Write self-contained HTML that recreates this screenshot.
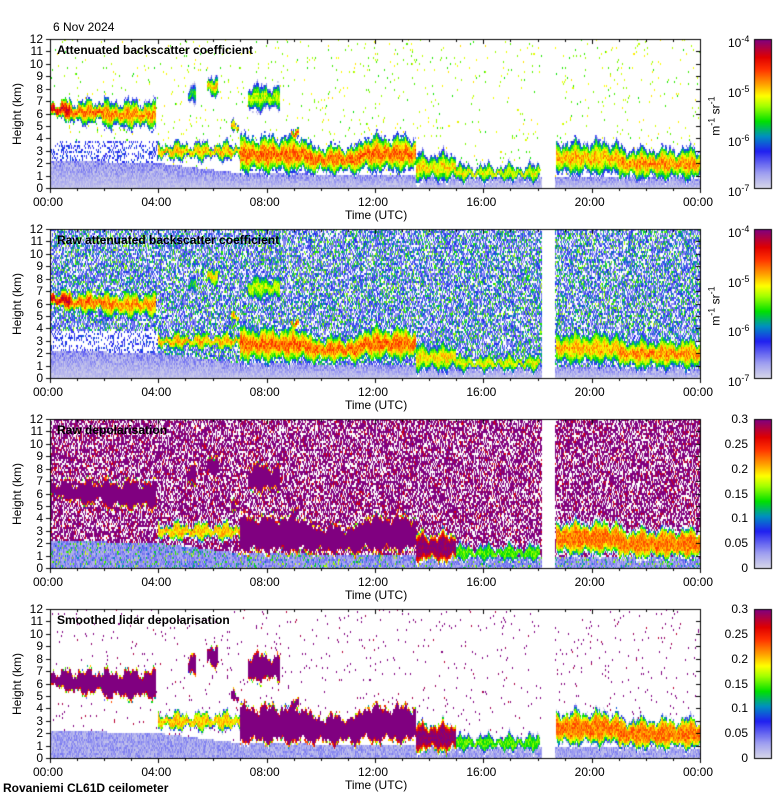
<!DOCTYPE html>
<html><head><meta charset="utf-8">
<style>
body{margin:0;background:#fff;width:780px;height:800px;position:relative;overflow:hidden;font-family:"Liberation Sans",sans-serif;}
canvas{position:absolute;left:0;top:0}
.t{position:absolute;font-size:12px;color:#000;white-space:nowrap;line-height:12px}
.b{font-weight:bold}
</style></head>
<body>
<canvas id="c" width="780" height="800"></canvas>
<div id="txt"></div>
<script>
// ---- data ----
const segStart=[0,0.75,2.0,5.1,5.8,7.3,6.7,8.9,4.0,7.0,9.5,11.5,13.5,15.0,18.7,21.0];
const segEnd=[0.75,2.0,3.9,5.4,6.2,8.5,7.0,9.2,7.0,9.5,11.5,13.5,15.0,18.1,21.0,24.0];
const segBase=[5.6,5.2,4.8,6.8,7.5,6.2,4.7,4.2,2.3,1.2,1.2,1.3,0.5,0.6,1.0,0.7];
const segTop=[7.0,7.0,7.0,8.2,8.8,8.3,5.1,4.6,3.6,4.2,3.4,4.2,2.8,1.8,3.8,3.2];
const segPeak=[-4.1,-4.5,-4.6,-5.4,-4.8,-5.0,-4.6,-4.4,-4.7,-4.5,-4.5,-4.5,-4.8,-4.9,-4.7,-4.6];
const segDepol=[0.38,0.38,0.38,0.35,0.38,0.38,0.35,0.35,0.2,0.4,0.4,0.4,0.3,0.15,0.22,0.22];
const blHours=[0,4,7,14,18,24];
const blTop=[2.2,2.0,1.2,1.0,0.9,0.8];
const gapStart=18.17, gapEnd=18.65;
const xTicks=["00:00","04:00","08:00","12:00","16:00","20:00","00:00"];
const bsTicks=["-4","-5","-6","-7"];
const dpTicks=["0.3","0.25","0.2","0.15","0.1","0.05","0"];
const titles=["Attenuated backscatter coefficient","Raw attenuated backscatter coefficient","Raw depolarisation","Smoothed lidar depolarisation"];

// ---- layout ----
const L=50,W=650,H=149,tops=[39,229,419,609];
const X=t=>L+t/24*W;
const ctx=document.getElementById('c').getContext('2d');
function hash(a,b,c){let h=(a*374761393+b*668265263+c*2147483647)|0;h=(h^(h>>>13))*1274126177|0;h^=h>>>16;return ((h>>>0)%10000)/10000;}
const stops=[[0,[216,216,232]],[0.1,[160,160,240]],[0.25,[32,32,240]],[0.35,[0,144,192]],[0.45,[0,224,0]],[0.55,[160,255,0]],[0.62,[255,255,0]],[0.7,[255,160,0]],[0.8,[255,48,0]],[0.88,[224,0,0]],[1,[128,0,128]]];
function cmap(f){f=Math.max(0,Math.min(1,f));for(let i=1;i<stops.length;i++){if(f<=stops[i][0]){const a=stops[i-1],b=stops[i],r=(f-a[0])/(b[0]-a[0]);return 'rgb('+a[1].map((v,k)=>Math.round(v+(b[1][k]-v)*r)).join(',')+')';}}return 'rgb(128,0,128)';}
function bl(t){for(let i=1;i<blHours.length;i++)if(t<=blHours[i]){const r=(t-blHours[i-1])/(blHours[i]-blHours[i-1]);return blTop[i-1]+(blTop[i]-blTop[i-1])*r;}return blTop[blTop.length-1];}
function wob(t,k){return 0.3*Math.sin(t*7.3+k)+0.2*Math.sin(t*17.1+2*k)+0.15*Math.sin(t*41.7+k*5);}
const cw=1,ch=2;
for(let p=0;p<4;p++){
  const top=tops[p];
  for(let i=0;i<W/cw;i++){for(let j=0;j<Math.ceil(H/ch);j++){
    const t=(i+0.5)*cw/W*24, hgt=12-(j+0.5)*ch/H*12;
    if(t>gapStart&&t<gapEnd) continue;
    const n=hash(i,j,p+1), n2=hash(j,i,p+7);
    let f=null;
    let inSeg=-1,q=0;
    for(let s=0;s<segStart.length;s++){
      const b=segBase[s]+wob(t,s)*0.8, tp=segTop[s]+wob(t,s+3);
      if(t>=segStart[s]&&t<=segEnd[s]&&hgt>=b&&hgt<=tp){inSeg=s;const mid=(b+tp)/2,half=(tp-b)/2;q=(hgt-mid)/half;break;}}
    const blt=bl(t);
    if(inSeg>=0){
      const s=inSeg;
      if(p<2){const v=segPeak[s]-1.8*q*q-0.5*n;f=(v+7)/3;}
      else{const v=segDepol[s]-0.18*q*q*q*q*(1+n)+0.04*(n2-0.5);f=v/0.3;}
      if(Math.abs(q)>0.8&&n2<0.35)f=null;
    } else if(hgt<blt){
      if(p<2)f=0.02+0.14*n*(hgt/blt+0.3); else if(p==2) f=n<0.15?0.3+0.3*n2:0.03+0.15*n; else f=0.03+0.12*n;
    } else if(hgt<3.8&&t<4&&p<2){
      if(n<0.3)f=0.2+0.1*n2;
    } else {
      if(p==0){if(n<0.025)f=0.45+0.2*n2;}
      else if(p==1){if(n<0.7)f=0.12+0.45*n2*n2;}
      else if(p==2){if(n<0.65)f=n2<0.78?1:0.4+n2*0.6;}
      else {if(n<0.02)f=n2<0.75?1:0.7+n2*0.3;}
    }
    if(f===null)continue;
    ctx.fillStyle=cmap(f);
    ctx.fillRect(L+i*cw,top+j*ch,cw,ch);
  }}
  ctx.strokeStyle='#000';ctx.lineWidth=1;
  ctx.strokeRect(L+0.5,top+0.5,W,H);
  ctx.beginPath();
  for(let k=0;k<=12;k++){const y=Math.round(top+H-k/12*H)+0.5;ctx.moveTo(L-4,y);ctx.lineTo(L,y);ctx.moveTo(L+W-4,y);ctx.lineTo(L+W,y);}
  for(let k=0;k<=24;k++){const x=Math.round(X(k))+0.5;const len=k%4==0?5:3;ctx.moveTo(x,top+H);ctx.lineTo(x,top+H+len);ctx.moveTo(x,top);ctx.lineTo(x,top+len);}
  ctx.stroke();
  const cx=754,cwid=17;
  for(let y=0;y<H;y++){ctx.fillStyle=cmap(1-y/H);ctx.fillRect(cx,top+y,cwid,1);}
  ctx.strokeRect(cx+0.5,top+0.5,cwid,H);
}
const txt=document.getElementById('txt');
function addText(s,x,y,cls,name,html){const d=document.createElement('div');d.className='t '+(cls||'');if(html)d.innerHTML=s;else d.textContent=s;d.style.left=x+'px';d.style.top=y+'px';


txt.appendChild(d);return d;}
addText('6 Nov 2024',53,21,'','date-label');
addText('Rovaniemi CL61D ceilometer',3,782,'b','footer-label');
for(let p=0;p<4;p++){
  const top=tops[p];
  addText(titles[p],57,top+5,'b','panel-title');
  for(let k=0;k<=12;k++){const d=addText(String(k),0,top+H-k/12*H-6,'','y-tick-label');d.style.width='43px';d.style.textAlign='right';}
  xTicks.forEach((s,k)=>{const d=addText(s,X(k*4)-17,top+H+8,'','x-tick-label');});
  addText('Time (UTC)',345,top+H+21,'','x-axis-title');
  const yl=addText('Height (km)',-14,top+H/2-6,'','y-axis-title');yl.style.transform='rotate(-90deg)';
  if(p<2){
    bsTicks.forEach((s,k)=>{const d=addText('10<sup style="font-size:9px">'+s+'</sup>',728,top+k/3*H-6,'','colorbar-tick-label',true);});
    const u=addText('m<sup style="font-size:9px">-1</sup> sr<sup style="font-size:9px">-1</sup>',694,top+H/2-6,'','colorbar-unit',true);u.style.transform='rotate(-90deg)';
  } else {
    dpTicks.forEach((s,k)=>{const d=addText(s,700,top+k/6*H-6,'','colorbar-tick-label');d.style.width='48px';d.style.textAlign='right';});
  }
}
</script>
</body></html>
